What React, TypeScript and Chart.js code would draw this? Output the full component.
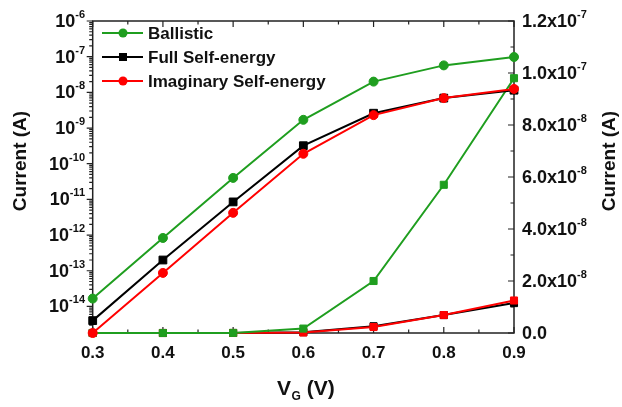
import React, { useEffect, useRef } from 'react';
import { Chart, registerables } from 'chart.js';
Chart.register(...registerables);

// ---- data ----
const VG = [0.3, 0.4, 0.5, 0.6, 0.7, 0.8, 0.9];
const ballistic = [1.66e-14, 8.3e-13, 4.0e-11, 1.7e-9, 2.0e-8, 5.7e-8, 9.8e-8];
const fullSelfEnergy = [4.0e-15, 2.0e-13, 8.5e-12, 3.2e-10, 2.6e-9, 6.9e-9, 1.15e-8];
const imagSelfEnergy = [1.8e-15, 8.7e-14, 4.2e-12, 1.9e-10, 2.3e-9, 6.9e-9, 1.25e-8];

// ---- tick labels ----
const xTicks = [0.3, 0.4, 0.5, 0.6, 0.7, 0.8, 0.9];
const xTickLabels = ['0.3', '0.4', '0.5', '0.6', '0.7', '0.8', '0.9'];
const leftTickExps = [-14, -13, -12, -11, -10, -9, -8, -7, -6];
const rightTicks = [0, 2e-8, 4e-8, 6e-8, 8e-8, 1.0e-7, 1.2e-7];
const rightTickMantissa = ['0.0', '2.0x10', '4.0x10', '6.0x10', '8.0x10', '1.0x10', '1.2x10'];
const rightTickExps = ['', '-8', '-8', '-8', '-8', '-7', '-7'];
const legendLabels = ['Ballistic', 'Full Self-energy', 'Imaginary Self-energy'];

const GREEN = '#1f9e1f';
const RED = '#ff0000';
const BLACK = '#000000';
const FONT = '"Liberation Sans", Arial, sans-serif';

function mkDs(label: string, vals: number[], color: string, style: string, radius: number, axis: string, order: number) {
  return {
    label,
    data: VG.map((x, i) => ({ x, y: vals[i] })),
    borderColor: color,
    backgroundColor: color,
    pointBackgroundColor: color,
    pointBorderColor: color,
    pointStyle: style,
    pointRadius: radius,
    pointHoverRadius: radius,
    pointBorderWidth: 1,
    borderWidth: 2,
    yAxisID: axis,
    order,
    clip: false as any,
    tension: 0,
  };
}

const decor = {
  id: 'decor',
  beforeDatasetsDraw(chart: any) {
    const { ctx, chartArea: a, scales } = chart;
    const x = scales.x, y = scales.y, y2 = scales.y2;
    ctx.save();
    ctx.strokeStyle = '#222';
    ctx.lineWidth = 1.5;
    ctx.strokeRect(a.left, a.top, a.right - a.left, a.bottom - a.top);
    ctx.lineWidth = 1.2;
    ctx.beginPath();
    // x ticks (inward, bottom and top)
    for (let i = 0; i < xTicks.length; i++) {
      const px = x.getPixelForValue(xTicks[i]);
      ctx.moveTo(px, a.bottom); ctx.lineTo(px, a.bottom - 6);
      ctx.moveTo(px, a.top); ctx.lineTo(px, a.top + 6);
      if (i < xTicks.length - 1) {
        const pm = x.getPixelForValue((xTicks[i] + xTicks[i + 1]) / 2);
        ctx.moveTo(pm, a.bottom); ctx.lineTo(pm, a.bottom - 3.5);
        ctx.moveTo(pm, a.top); ctx.lineTo(pm, a.top + 3.5);
      }
    }
    // left log ticks (outward)
    for (let e = -15; e <= -6; e++) {
      for (let k = 1; k <= 9; k++) {
        const v = k * Math.pow(10, e);
        if (v < y.min * 0.999 || v > y.max * 1.001) continue;
        const py = y.getPixelForValue(v);
        const len = k === 1 ? 6 : 3.5;
        ctx.moveTo(a.left, py); ctx.lineTo(a.left - len, py);
      }
    }
    // right linear ticks (inward)
    for (let i = 0; i < rightTicks.length; i++) {
      const py = y2.getPixelForValue(rightTicks[i]);
      ctx.moveTo(a.right, py); ctx.lineTo(a.right - 6, py);
      if (i < rightTicks.length - 1) {
        const pm = y2.getPixelForValue((rightTicks[i] + rightTicks[i + 1]) / 2);
        ctx.moveTo(a.right, pm); ctx.lineTo(a.right - 3.5, pm);
      }
    }
    ctx.stroke();
    ctx.restore();
  },
  afterDraw(chart: any) {
    const { ctx, chartArea: a, scales } = chart;
    const x = scales.x, y = scales.y, y2 = scales.y2;
    ctx.save();
    ctx.fillStyle = '#111';
    const baseFont = `bold 18px ${FONT}`;
    const supFont = `bold 11px ${FONT}`;
    // x tick labels
    ctx.font = `bold 17px ${FONT}`;
    ctx.textAlign = 'center';
    ctx.textBaseline = 'middle';
    xTicks.forEach((v, i) => {
      ctx.fillText(xTickLabels[i], x.getPixelForValue(v), 353);
    });
    // left tick labels
    leftTickExps.forEach((e) => {
      const py = y.getPixelForValue(Math.pow(10, e));
      const sup = String(e);
      ctx.font = supFont;
      const sw = ctx.measureText(sup).width;
      const right = 85;
      ctx.textAlign = 'left';
      ctx.textBaseline = 'middle';
      ctx.fillText(sup, right - sw, py - 6);
      ctx.font = baseFont;
      ctx.textAlign = 'right';
      ctx.fillText('10', right - sw, py + 1);
    });
    // right tick labels
    rightTicks.forEach((v, i) => {
      const py = y2.getPixelForValue(v);
      ctx.font = baseFont;
      ctx.textAlign = 'left';
      ctx.textBaseline = 'middle';
      const left = 522;
      ctx.fillText(rightTickMantissa[i], left, py + 1);
      const w = ctx.measureText(rightTickMantissa[i]).width;
      if (rightTickExps[i]) {
        ctx.font = supFont;
        ctx.fillText(rightTickExps[i], left + w, py - 6);
      }
    });
    // y titles
    ctx.font = `bold 19px ${FONT}`;
    ctx.textAlign = 'center';
    ctx.textBaseline = 'middle';
    for (const cx of [21, 610]) {
      ctx.save();
      ctx.translate(cx, 161);
      ctx.rotate(-Math.PI / 2);
      ctx.fillText('Current (A)', 0, 0);
      ctx.restore();
    }
    // x title V_G (V)
    ctx.textAlign = 'left';
    ctx.textBaseline = 'alphabetic';
    let tx = 277;
    ctx.font = `bold 21px ${FONT}`;
    ctx.fillText('V', tx, 395);
    tx += ctx.measureText('V').width + 0.5;
    ctx.font = `bold 12px ${FONT}`;
    ctx.fillText('G', tx, 400);
    tx += ctx.measureText('G').width;
    ctx.font = `bold 21px ${FONT}`;
    ctx.fillText(' (V)', tx, 395);
    // legend
    const rows = [33, 57, 81];
    for (let i = 0; i < 3; i++) {
      const ds = chart.data.datasets[i];
      const ry = rows[i];
      ctx.strokeStyle = ds.borderColor;
      ctx.lineWidth = 2;
      ctx.beginPath();
      ctx.moveTo(102, ry); ctx.lineTo(143, ry);
      ctx.stroke();
      ctx.fillStyle = ds.backgroundColor;
      ctx.beginPath();
      if (ds.pointStyle === 'rect') {
        ctx.rect(123 - 4, ry - 4, 8, 8);
      } else {
        ctx.arc(123, ry, 4.5, 0, Math.PI * 2);
      }
      ctx.fill();
      ctx.fillStyle = '#111';
      ctx.font = `bold 17px ${FONT}`;
      ctx.textAlign = 'left';
      ctx.textBaseline = 'middle';
      ctx.fillText(legendLabels[i], 148, ry + 1);
    }
    ctx.restore();
  },
};

export default function App() {
  const ref = useRef<HTMLCanvasElement | null>(null);
  useEffect(() => {
    if (!ref.current) return;
    const chart = new Chart(ref.current, {
      type: 'line',
      data: {
        datasets: [
          mkDs(legendLabels[0], ballistic, GREEN, 'circle', 4.5, 'y', 2),
          mkDs(legendLabels[1], fullSelfEnergy, BLACK, 'rect', 5.5, 'y', 1),
          mkDs(legendLabels[2], imagSelfEnergy, RED, 'circle', 4.5, 'y', 0),
          mkDs(legendLabels[0] + ' (linear)', ballistic, GREEN, 'rect', 5, 'y2', 3),
          mkDs(legendLabels[1] + ' (linear)', fullSelfEnergy, BLACK, 'rect', 5, 'y2', 5),
          mkDs(legendLabels[2] + ' (linear)', imagSelfEnergy, RED, 'rect', 5, 'y2', 4),
        ] as any,
      },
      options: {
        responsive: false,
        animation: false,
        events: [],
        layout: { padding: { top: 21, left: 0, right: 0, bottom: 0 } },
        plugins: { legend: { display: false }, tooltip: { enabled: false } },
        scales: {
          x: {
            type: 'linear', position: 'bottom', min: 0.3, max: 0.9,
            ticks: { display: false }, grid: { display: false }, border: { display: false },
            afterFit: (s: any) => { s.height = 74; },
          },
          y: {
            type: 'logarithmic', position: 'left', min: 1.8e-15, max: 1e-6,
            ticks: { display: false }, grid: { display: false }, border: { display: false },
            afterFit: (s: any) => { s.width = 92.7; },
          },
          y2: {
            type: 'linear', position: 'right', min: 0, max: 1.2e-7,
            ticks: { display: false }, grid: { display: false }, border: { display: false },
            afterFit: (s: any) => { s.width = 108; },
          },
        } as any,
      },
      plugins: [decor],
    });
    return () => chart.destroy();
  }, []);
  return (
    <div style={{ position: 'fixed', left: 0, top: 0, width: 622, height: 407, background: '#fff' }}>
      <canvas ref={ref} width={622} height={407} style={{ display: 'block' }} />
    </div>
  );
}
